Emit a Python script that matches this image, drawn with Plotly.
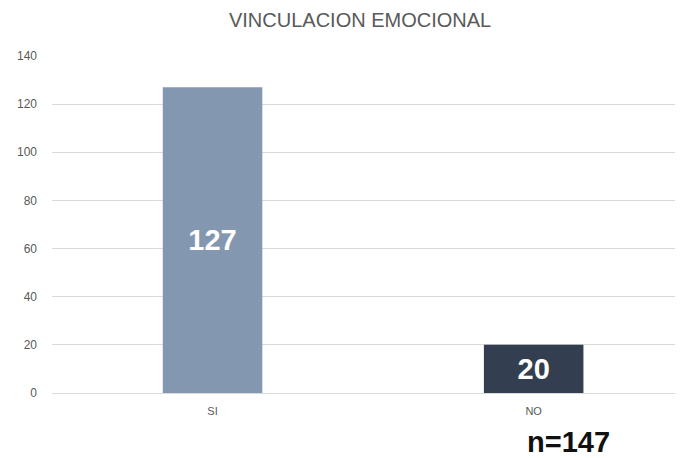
import plotly.graph_objects as go

categories = ["SI", "NO"]
values = [127, 20]
labels = ["127", "20"]
bar_colors = ["#8497B0", "#333F50"]
y_ticks = [0, 20, 40, 60, 80, 100, 120, 140]
title_text = "VINCULACION EMOCIONAL"
note_text = "n=147"

fig = go.Figure()
fig.add_trace(go.Bar(
    x=categories, y=values, text=labels,
    marker=dict(color=bar_colors, line=dict(width=0)),
    width=0.31,
    textposition="inside", insidetextanchor="middle", textangle=0,
    textfont=dict(family="Liberation Sans Narrow, Arial Narrow, Arial", size=29, color="white", weight="bold"),
    cliponaxis=False,
))

fig.update_layout(
    width=683, height=450,
    margin=dict(l=44, r=0, t=48, b=65),
    paper_bgcolor="white", plot_bgcolor="white",
    showlegend=False,
    title=dict(text=title_text, x=0.5155, xanchor="center", y=0.973, yanchor="middle",
               font=dict(family="Liberation Sans Narrow, Arial Narrow, Arial", size=20, color="#595959")),
    xaxis=dict(range=[-0.5, 1.49], showgrid=False, showline=False, ticks="",
               ticklabelstandoff=10,
               tickfont=dict(family="Liberation Sans, Arial", size=11, color="#595959")),
    yaxis=dict(range=[0, 140], tickvals=y_ticks, showgrid=True, gridcolor="#D9D9D9", gridwidth=1,
               zeroline=True, zerolinecolor="#D9D9D9", zerolinewidth=1, showline=False, ticks="",
               ticklabelstandoff=14,
               tickfont=dict(family="Liberation Sans, Arial", size=12, color="#595959")),
    annotations=[dict(text="<b>" + note_text + "</b>", xref="paper", yref="paper",
                      x=0.808, y=-0.145, xanchor="center", yanchor="middle", showarrow=False,
                      font=dict(family="Liberation Sans Narrow, Arial Narrow, Arial", size=29, color="#111111"))],
)

fig.write_html("out.html")
